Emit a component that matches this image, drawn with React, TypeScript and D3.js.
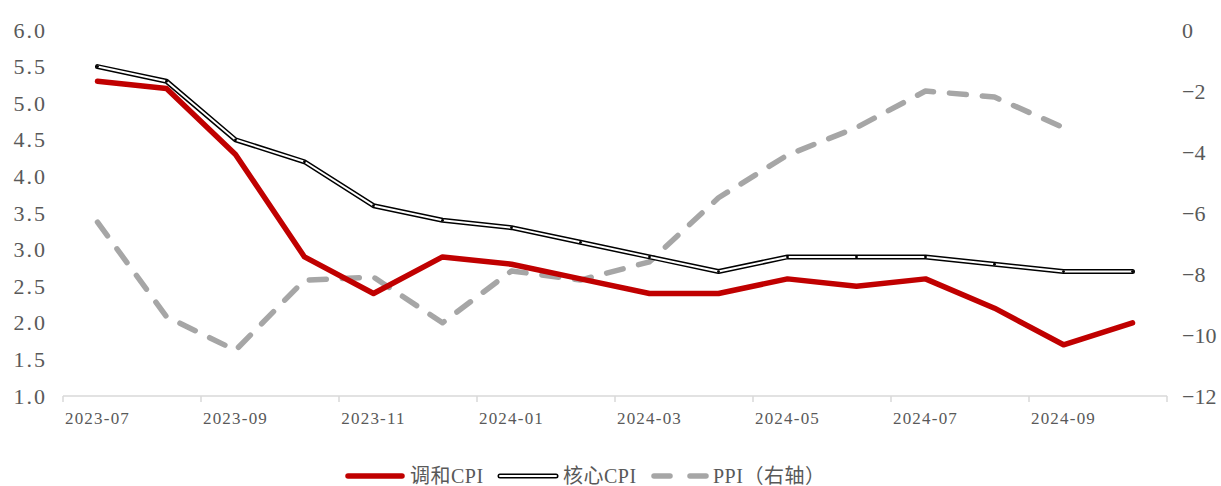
import React from "react";
import * as d3 from "d3";

const months = [
  "2023-07", "2023-08", "2023-09", "2023-10", "2023-11", "2023-12",
  "2024-01", "2024-02", "2024-03", "2024-04", "2024-05", "2024-06",
  "2024-07", "2024-08", "2024-09", "2024-10",
];
const harmonizedCPI = [5.3, 5.2, 4.3, 2.9, 2.4, 2.9, 2.8, 2.6, 2.4, 2.4, 2.6, 2.5, 2.6, 2.2, 1.7, 2.0];
const coreCPI = [5.5, 5.3, 4.5, 4.2, 3.6, 3.4, 3.3, 3.1, 2.9, 2.7, 2.9, 2.9, 2.9, 2.8, 2.7, 2.7];
const ppi: (number | null)[] = [-6.3, -9.4, -10.5, -8.2, -8.1, -9.6, -7.9, -8.2, -7.6, -5.5, -4.1, -3.2, -2.0, -2.2, -3.2, null];
const leftTicks = [1.0, 1.5, 2.0, 2.5, 3.0, 3.5, 4.0, 4.5, 5.0, 5.5, 6.0];
const rightTicks = [0, -2, -4, -6, -8, -10, -12];
const xLabels = ["2023-07", "2023-09", "2023-11", "2024-01", "2024-03", "2024-05", "2024-07", "2024-09"];

const W = 1221, H = 486;
const left = 63, right = 1167, top = 30, bottom = 396;
const serif = "'Liberation Serif', 'DejaVu Serif', 'Noto Sans CJK SC', serif";

export default function App() {
  const x = d3.scaleBand<string>().domain(months).range([left, right]).padding(0);
  const cx = (m: string) => (x(m) as number) + x.bandwidth() / 2;
  const yL = d3.scaleLinear().domain([1, 6]).range([bottom, top]);
  const yR = d3.scaleLinear().domain([-12, 0]).range([bottom, top]);

  const lineL = d3.line<number>().x((_, i) => cx(months[i])).y((d) => yL(d));
  const lineR = d3
    .line<number | null>()
    .defined((d) => d !== null)
    .x((_, i) => cx(months[i]))
    .y((d) => yR(d as number));

  const tickXs = d3.range(0, months.length + 1, 2).map((i) => left + i * x.bandwidth());

  return (
    <svg width={W} height={H} style={{ position: "absolute", left: 0, top: 0, background: "#fff" }}>
      {/* x axis */}
      <line x1={left} x2={right} y1={bottom} y2={bottom} stroke="#d9d9d9" strokeWidth={1.5} />
      {tickXs.map((tx, i) => (
        <line key={i} x1={tx} x2={tx} y1={bottom} y2={bottom + 6} stroke="#d9d9d9" strokeWidth={1.5} />
      ))}
      {xLabels.map((m) => (
        <text key={m} x={cx(m)} y={bottom + 28} textAnchor="middle" fontFamily={serif} fontSize={17}
          letterSpacing={1.2} fill="#595959">{m}</text>
      ))}
      {/* left axis labels */}
      {leftTicks.map((t) => (
        <text key={t} x={47} y={yL(t) + 7.5} textAnchor="end" fontFamily={serif} fontSize={22}
          letterSpacing={2} fill="#595959">{t.toFixed(1)}</text>
      ))}
      {/* right axis labels */}
      {rightTicks.map((t) => (
        <text key={t} x={1182} y={yR(t) + 7.5} textAnchor="start" fontFamily={serif} fontSize={22}
          fill="#595959">{t === 0 ? "0" : "−" + Math.abs(t)}</text>
      ))}

      {/* PPI dashed */}
      <path d={lineR(ppi) || ""} fill="none" stroke="#a6a6a6" strokeWidth={5.5}
        strokeDasharray="17 16" strokeLinecap="round" strokeLinejoin="round" />
      {/* core CPI double line */}
      <path d={lineL(coreCPI) || ""} fill="none" stroke="#000" strokeWidth={5} strokeLinecap="round" strokeLinejoin="round" />
      <path d={lineL(coreCPI) || ""} fill="none" stroke="#fff" strokeWidth={2} strokeLinecap="round" strokeLinejoin="round" />
      {coreCPI.map((v, i) => (
        <circle key={i} cx={cx(months[i])} cy={yL(v)} r={1.4} fill="#000" />
      ))}
      {/* harmonized CPI */}
      <path d={lineL(harmonizedCPI) || ""} fill="none" stroke="#c00000" strokeWidth={5.5} strokeLinejoin="round" strokeLinecap="round" />

      {/* legend */}
      <g fontFamily={serif} fontSize={20} fill="#595959">
        <line x1={348} x2={402} y1={476} y2={476} stroke="#c00000" strokeWidth={5.5} strokeLinecap="round" />
        <text x={410} y={483} letterSpacing={0.5}>调和CPI</text>
        <line x1={500} x2={556} y1={476} y2={476} stroke="#000" strokeWidth={5} strokeLinecap="round" />
        <line x1={500} x2={556} y1={476} y2={476} stroke="#fff" strokeWidth={2} strokeLinecap="round" />
        <text x={563} y={483} letterSpacing={0.5}>核心CPI</text>
        <line x1={654} x2={670} y1={476} y2={476} stroke="#a6a6a6" strokeWidth={5.5} strokeLinecap="round" />
        <line x1={690} x2={706} y1={476} y2={476} stroke="#a6a6a6" strokeWidth={5.5} strokeLinecap="round" />
        <text x={713} y={483} letterSpacing={0.5}>PPI（右轴）</text>
      </g>
    </svg>
  );
}
